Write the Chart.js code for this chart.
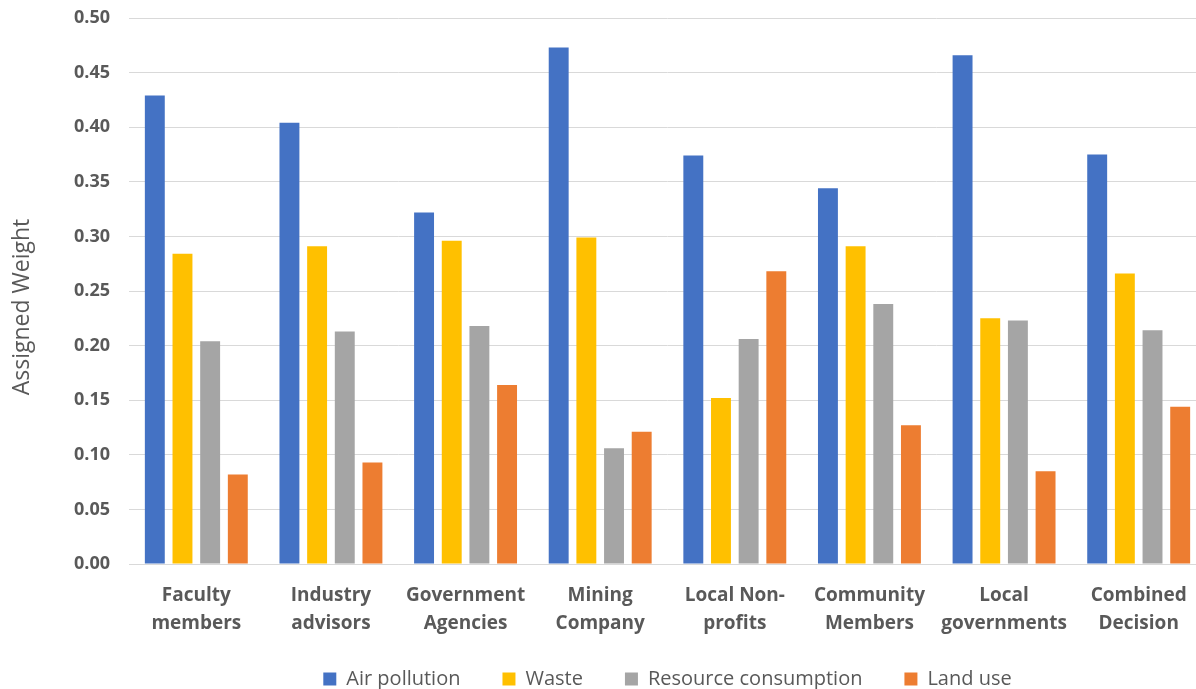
<!DOCTYPE html>
<html>
<head>
<meta charset="utf-8">
<script src="https://cdn.jsdelivr.net/npm/chart.js@4.4.1/dist/chart.umd.min.js"></script>
<style>
  html, body { margin: 0; padding: 0; background: #fff; overflow: hidden; }
  #wrap { position: relative; width: 1206px; height: 689px; }
</style>
</head>
<body>
<div id="wrap"><canvas id="chart"></canvas></div>
<script>
// Stakeholder groups (x categories)
const categories = [
  ['Faculty', 'members'],
  ['Industry', 'advisors'],
  ['Government', 'Agencies'],
  ['Mining', 'Company'],
  ['Local Non-', 'profits'],
  ['Community', 'Members'],
  ['Local', 'governments'],
  ['Combined', 'Decision']
];

// Assigned weight per criterion for each group
const airPollution = [0.429, 0.404, 0.322, 0.473, 0.374, 0.344, 0.466, 0.375];
const waste        = [0.284, 0.291, 0.296, 0.299, 0.152, 0.291, 0.225, 0.266];
const resourceUse  = [0.204, 0.213, 0.218, 0.106, 0.206, 0.238, 0.223, 0.214];
const landUse      = [0.082, 0.093, 0.164, 0.121, 0.268, 0.127, 0.085, 0.144];

const seriesNames = ['Air pollution', 'Waste', 'Resource consumption', 'Land use'];
const seriesColors = ['#4472C4', '#FFC000', '#A5A5A5', '#ED7D31'];

const yTicks = { min: 0, max: 0.5, step: 0.05 };
const yTitle = 'Assigned Weight';

const FONT = '"Open Sans", "Liberation Sans", sans-serif';
const TEXT = '#595959';
const GRID = '#D9D9D9';

const seriesData = [airPollution, waste, resourceUse, landUse];

// Lifts the legend row a little after layout, so the two-line
// category labels keep their full scale box.
const legendNudge = {
  id: 'legendNudge',
  afterLayout(chart) {
    const lg = chart.legend;
    if (lg) { lg.top -= 13; lg.bottom -= 13; }
  }
};

// Rotated y-axis title, drawn beside the tick labels.
const axisTitle = {
  id: 'axisTitle',
  afterDraw(chart) {
    const ctx = chart.ctx;
    ctx.save();
    ctx.translate(22, 307);
    ctx.rotate(-Math.PI / 2);
    ctx.fillStyle = TEXT;
    ctx.font = '23px ' + FONT;
    ctx.textAlign = 'center';
    ctx.textBaseline = 'middle';
    ctx.fillText(yTitle, 0, 0);
    ctx.restore();
  }
};

new Chart(document.getElementById('chart'), {
  type: 'bar',
  data: {
    labels: categories,
    datasets: seriesData.map((d, i) => ({
      label: seriesNames[i],
      data: d,
      backgroundColor: seriesColors[i],
      borderWidth: 0,
      barPercentage: 0.72,
      categoryPercentage: 0.822
    }))
  },
  plugins: [legendNudge, axisTitle],
  options: {
    responsive: true,
    maintainAspectRatio: false,
    animation: false,
    layout: { padding: { top: 18, right: 0, bottom: -23, left: 0 } },
    plugins: {
      tooltip: { enabled: false },
      legend: {
        position: 'bottom',
        fullSize: false,
        labels: {
          boxWidth: 13,
          boxHeight: 13,
          padding: 42,
          color: TEXT,
          font: { family: FONT, size: 20 }
        }
      }
    },
    scales: {
      x: {
        grid: { display: false, drawTicks: false },
        border: { display: true, color: GRID, width: 1 },
        ticks: {
          color: TEXT,
          padding: 17,
          maxRotation: 0,
          autoSkip: false,
          font: { family: FONT, size: 19, weight: 'bold', lineHeight: 1.5 }
        },
        afterFit: s => { s.height = 76; }
      },
      y: {
        min: yTicks.min,
        max: yTicks.max,
        grid: { color: GRID, lineWidth: 1, drawTicks: false },
        border: { display: false },
        ticks: {
          stepSize: yTicks.step,
          color: TEXT,
          padding: 19,
          font: { family: FONT, size: 18, weight: 'bold' },
          callback: v => Number(v).toFixed(2)
        },
        afterFit: s => { s.width = 129; s.paddingTop = 11; s.paddingBottom = 11; }
      }
    }
  }
});
</script>
</body>
</html>
